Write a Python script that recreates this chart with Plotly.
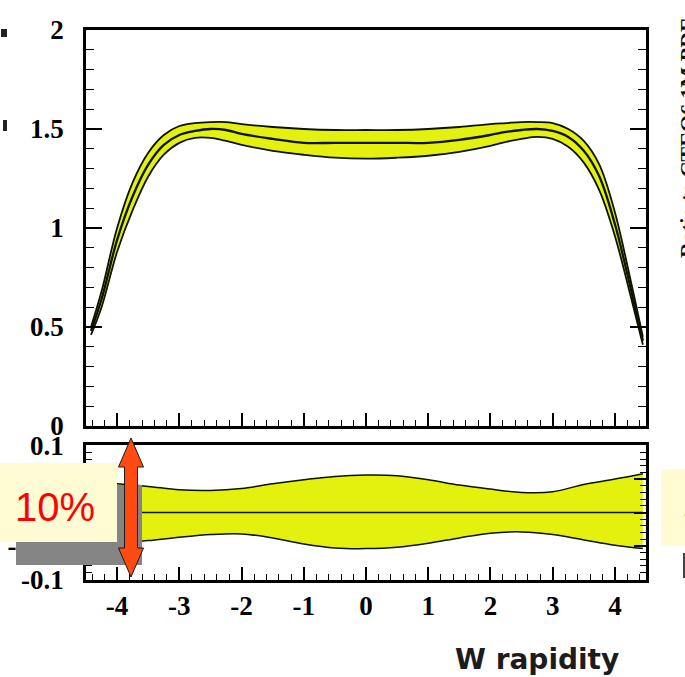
import plotly.graph_objects as go

# ---------------- data ----------------
x_top = [-4.42, -4.25, -4.0, -3.75, -3.5, -3.25, -3.0, -2.75, -2.5, -2.25, -2.0, -1.5, -1.0, -0.5, 0.0,
         0.5, 1.0, 1.5, 2.0, 2.25, 2.5, 2.75, 3.0, 3.25, 3.5, 3.75, 4.0, 4.25, 4.45]
central = [0.48, 0.64, 0.94, 1.16, 1.32, 1.42, 1.47, 1.49, 1.50, 1.495, 1.475, 1.45, 1.43, 1.43, 1.43,
           1.43, 1.43, 1.445, 1.47, 1.485, 1.495, 1.50, 1.49, 1.46, 1.39, 1.26, 1.02, 0.70, 0.43]
upper = [0.50, 0.68, 1.00, 1.23, 1.38, 1.47, 1.515, 1.53, 1.535, 1.535, 1.525, 1.51, 1.50, 1.495, 1.495,
         1.495, 1.50, 1.51, 1.525, 1.53, 1.535, 1.535, 1.53, 1.50, 1.44, 1.32, 1.08, 0.74, 0.45]
lower = [0.46, 0.60, 0.88, 1.09, 1.26, 1.37, 1.43, 1.455, 1.455, 1.44, 1.42, 1.39, 1.37, 1.355, 1.35,
         1.355, 1.365, 1.385, 1.415, 1.435, 1.45, 1.46, 1.45, 1.41, 1.33, 1.19, 0.96, 0.66, 0.41]

x_bot = [-4.45, -4.0, -3.5, -3.0, -2.5, -2.0, -1.5, -1.0, -0.5, 0.0, 0.5, 1.0, 1.5, 2.0, 2.5, 3.0, 3.5, 4.0, 4.45]
dev_up = [0.045, 0.043, 0.039, 0.034, 0.033, 0.036, 0.043, 0.049, 0.054, 0.056, 0.055, 0.049, 0.041, 0.035,
          0.030, 0.031, 0.042, 0.050, 0.058]
dev_lo = [-0.050, -0.046, -0.042, -0.037, -0.033, -0.032, -0.038, -0.047, -0.053, -0.054, -0.052, -0.046,
          -0.038, -0.031, -0.029, -0.033, -0.041, -0.049, -0.054]
dev_mid = [0.0] * len(x_bot)

x_tickvals = [-4, -3, -2, -1, 0, 1, 2, 3, 4]
x_ticktext = ["-4", "-3", "-2", "-1", "0", "1", "2", "3", "4"]
ytop_tickvals = [0, 0.5, 1, 1.5, 2]
ytop_ticktext = ["0", "0.5", "1", "1.5", "2"]
ybot_tickvals = [-0.1, -0.05, 0, 0.05, 0.1]
ybot_ticktext = ["-0.1", "-0.05", "0", "0.05", "0.1"]

# ---------------- figure ----------------
W, H = 685, 677
BAND = "#e4f00e"
LINE = "#0c1400"


def px(x):
    return x / W


def py(y):
    return 1 - y / H


fig = go.Figure()

# top panel band
fig.add_trace(go.Scatter(x=x_top, y=lower, mode="lines", line=dict(color=LINE, width=1.8, shape="spline"),
                         xaxis="x", yaxis="y", showlegend=False, hoverinfo="skip"))
fig.add_trace(go.Scatter(x=x_top, y=upper, mode="lines", fill="tonexty", fillcolor=BAND,
                         line=dict(color=LINE, width=1.8, shape="spline"),
                         xaxis="x", yaxis="y", showlegend=False, hoverinfo="skip"))
fig.add_trace(go.Scatter(x=x_top, y=central, mode="lines", line=dict(color=LINE, width=2.3, shape="spline"),
                         xaxis="x", yaxis="y", showlegend=False, hoverinfo="skip"))

# bottom panel band
fig.add_trace(go.Scatter(x=x_bot, y=dev_lo, mode="lines", line=dict(color=LINE, width=1.5, shape="spline"),
                         xaxis="x2", yaxis="y2", showlegend=False, hoverinfo="skip"))
fig.add_trace(go.Scatter(x=x_bot, y=dev_up, mode="lines", fill="tonexty", fillcolor=BAND,
                         line=dict(color=LINE, width=1.5, shape="spline"),
                         xaxis="x2", yaxis="y2", showlegend=False, hoverinfo="skip"))
fig.add_trace(go.Scatter(x=x_bot, y=dev_mid, mode="lines", line=dict(color=LINE, width=1.6),
                         xaxis="x2", yaxis="y2", showlegend=False, hoverinfo="skip"))

tickfont = dict(family="Liberation Serif", size=27, color="black", weight="bold")
xdom = [px(86), px(646)]

common_x = dict(range=[-4.5, 4.5], domain=xdom, showgrid=False, zeroline=False, showline=True,
                linecolor="black", linewidth=2.5, mirror=True, ticks="inside", ticklen=13, tickwidth=1.5,
                tickcolor="black", tickmode="array", tickvals=x_tickvals, ticktext=x_ticktext,
                minor=dict(dtick=0.2, tick0=0, ticks="inside", ticklen=6, tickwidth=1.2, tickcolor="black"),
                tickfont=tickfont, automargin=False)

fig.update_layout(
    width=W, height=H, margin=dict(l=0, r=0, t=0, b=0, pad=0, autoexpand=False),
    paper_bgcolor="white", plot_bgcolor="white",
    xaxis=dict(**common_x, anchor="y", showticklabels=False),
    yaxis=dict(range=[0, 2.0], domain=[py(426), py(30)], anchor="x", showgrid=False, zeroline=False,
               showline=True, linecolor="black", linewidth=2.5, mirror="allticks", ticks="inside",
               ticklen=16, tickwidth=1.5, tickcolor="black", tickmode="array", tickvals=ytop_tickvals,
               ticktext=ytop_ticktext, tickfont=tickfont, ticklabelstandoff=14, automargin=False,
               minor=dict(dtick=0.1, tick0=0, ticks="inside", ticklen=8, tickwidth=1.2, tickcolor="black")),
    xaxis2=dict(**common_x, anchor="y2", ticklabelstandoff=0),
    yaxis2=dict(range=[-0.101, 0.101], domain=[py(580), py(445)], anchor="x2", showgrid=False,
                zeroline=False, showline=True, linecolor="black", linewidth=2.5, mirror="allticks",
                ticks="inside", ticklen=12, tickwidth=1.5, tickcolor="black", tickmode="array",
                tickvals=ybot_tickvals, ticktext=ybot_ticktext, tickfont=tickfont, ticklabelstandoff=14,
                automargin=False,
                minor=dict(dtick=0.01, tick0=0, ticks="inside", ticklen=6, tickwidth=1.2, tickcolor="black")),
)

shapes = []
# grey drop shadow of the 10% box
shapes.append(dict(type="rect", xref="paper", yref="paper", x0=px(16), x1=px(142), y0=py(565), y1=py(485),
                   fillcolor="#858585", line=dict(width=0), layer="above"))
# light yellow label box
shapes.append(dict(type="rect", xref="paper", yref="paper", x0=px(-2), x1=px(117), y0=py(542), y1=py(463),
                   fillcolor="#fffcd4", line=dict(width=0), layer="above"))
# right-hand partial box
shapes.append(dict(type="rect", xref="paper", yref="paper", x0=px(661), x1=px(690), y0=py(546), y1=py(469),
                   fillcolor="#fffcd4", line=dict(width=0), layer="above"))
shapes.append(dict(type="rect", xref="paper", yref="paper", x0=px(683), x1=px(686), y0=py(578), y1=py(553),
                   fillcolor="#444444", line=dict(width=0), layer="above"))
# left cut-off glyph fragments
shapes.append(dict(type="rect", xref="paper", yref="paper", x0=px(1), x1=px(7), y0=py(37), y1=py(29),
                   fillcolor="#222222", line=dict(width=0), layer="above"))
shapes.append(dict(type="rect", xref="paper", yref="paper", x0=px(3), x1=px(7), y0=py(131), y1=py(120),
                   fillcolor="#222222", line=dict(width=0), layer="above"))

# red double-headed arrow
cx, ytip1, ybase1, ybase2, ytip2, hw, bw = 131, 438, 467, 548, 577, 12.5, 6.5
pts = [(cx, ytip1), (cx + hw, ybase1), (cx + bw, ybase1), (cx + bw, ybase2), (cx + hw, ybase2), (cx, ytip2),
       (cx - hw, ybase2), (cx - bw, ybase2), (cx - bw, ybase1), (cx - hw, ybase1)]
path = "M " + " L ".join(f"{px(a):.5f},{py(b):.5f}" for a, b in pts) + " Z"
shapes.append(dict(type="path", xref="paper", yref="paper", path=path, fillcolor="#ff4a12",
                   line=dict(color="#1a1a1a", width=1), layer="above"))
fig.update_layout(shapes=shapes)

annotations = [
    dict(text="10%", x=px(55), y=py(507), xref="paper", yref="paper", showarrow=False,
         font=dict(family="Liberation Sans", size=40, color="#ff0000"), xanchor="center", yanchor="middle"),
    dict(text="5%", x=px(681), y=py(507), xref="paper", yref="paper", showarrow=False,
         font=dict(family="Liberation Sans", size=40, color="#ff0000"), xanchor="left", yanchor="middle"),
    dict(text="W rapidity", x=px(537), y=py(659), xref="paper", yref="paper", showarrow=False,
         font=dict(family="DejaVu Sans", size=28, color="#1c1c1c", weight="bold"),
         xanchor="center", yanchor="middle"),
    dict(text="Ratio to CTEQ6.1M PDF", x=px(687), y=py(138), xref="paper", yref="paper", showarrow=False,
         textangle=-90, font=dict(family="Liberation Serif", size=22, color="#111111", weight="bold"),
         xanchor="center", yanchor="middle"),
]
fig.update_layout(annotations=annotations)

fig.write_html("out.html")
